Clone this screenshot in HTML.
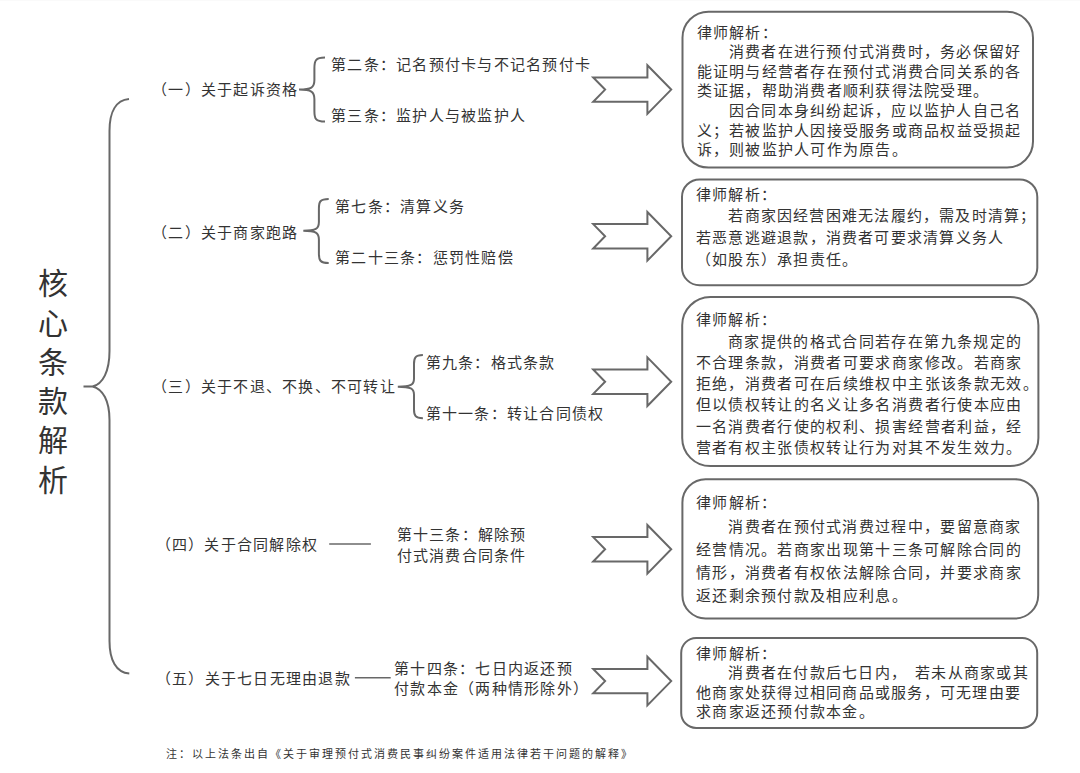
<!DOCTYPE html>
<html lang="zh-CN"><head><meta charset="utf-8"><title>核心条款解析</title>
<style>
html,body{margin:0;padding:0;background:#fff;}
body{width:1080px;height:773px;position:relative;overflow:hidden;}
.t{position:absolute;white-space:nowrap;font-family:'Liberation Serif', serif;color:#333;}
svg{position:absolute;left:0;top:0;}
.topline{position:absolute;left:0;top:0;width:1080px;height:1px;background:#fafafa;}
</style></head><body>
<div class="topline"></div>
<svg width="1080" height="773" viewBox="0 0 1080 773">
<path d="M129,99 C116,100 109.5,112 109.5,131 L109.5,351 C109.5,371 103,384 92.5,386.5 L83.5,386.5 L92.5,386.5 C103,389 109.5,401 109.5,420 L109.5,641 C109.5,660 116,672.5 129.3,673.6" fill="none" stroke="#686868" stroke-width="2" stroke-linejoin="miter"/>
<path d="M325,57.6 C315.4,57.6 314.4,60.6 314.4,68.20000000000002 L314.4,80.05999999999997 C314.4,87.6 311.4,89.6 299,89.6 C311.4,89.6 314.4,91.6 314.4,99.14000000000001 L314.4,110.89999999999998 C314.4,118.5 315.4,121.5 325,121.5" fill="none" stroke="#686868" stroke-width="2" stroke-linejoin="miter"/>
<path d="M328.7,198.9 C319.9,198.9 318.9,201.9 318.9,208.70000000000002 L318.9,221.87999999999997 C318.9,228.7 315.9,230.7 303.3,230.7 C315.9,230.7 318.9,232.7 318.9,239.52 L318.9,253.3 C318.9,260.1 319.9,263.1 328.7,263.1" fill="none" stroke="#686868" stroke-width="2" stroke-linejoin="miter"/>
<path d="M422.9,355.1 C415,355.1 414,358.1 414,364.0 L414,378.69 C414,384.7 411,386.7 397.8,386.7 C411,386.7 414,388.7 414,394.71 L414,409.3 C414,415.2 415,418.2 422.9,418.2" fill="none" stroke="#686868" stroke-width="2" stroke-linejoin="miter"/>
<path d="M329.2,544 L370.9,544" fill="none" stroke="#686868" stroke-width="1.6" stroke-linejoin="miter"/>
<path d="M354.9,677.8 L390.7,677.8" fill="none" stroke="#686868" stroke-width="1.6" stroke-linejoin="miter"/>
<path d="M593.2,77.39999999999999 L647.4,77.39999999999999 L647.4,65.3 L671.2,89.6 L647.4,113.89999999999999 L647.4,101.8 L593.2,101.8 L605.1,89.6 Z" fill="none" stroke="#686868" stroke-width="2" stroke-linejoin="miter"/>
<path d="M593.2,224.10000000000002 L647.4,224.10000000000002 L647.4,212.0 L671.2,236.3 L647.4,260.6 L647.4,248.5 L593.2,248.5 L605.1,236.3 Z" fill="none" stroke="#686868" stroke-width="2" stroke-linejoin="miter"/>
<path d="M593.2,369.5 L647.4,369.5 L647.4,357.4 L671.2,381.7 L647.4,406.0 L647.4,393.9 L593.2,393.9 L605.1,381.7 Z" fill="none" stroke="#686868" stroke-width="2" stroke-linejoin="miter"/>
<path d="M593.2,537.0999999999999 L647.4,537.0999999999999 L647.4,525.0 L671.2,549.3 L647.4,573.5999999999999 L647.4,561.5 L593.2,561.5 L605.1,549.3 Z" fill="none" stroke="#686868" stroke-width="2" stroke-linejoin="miter"/>
<path d="M593.2,668.9 L647.4,668.9 L647.4,656.8000000000001 L671.2,681.1 L647.4,705.4 L647.4,693.3000000000001 L593.2,693.3000000000001 L605.1,681.1 Z" fill="none" stroke="#686868" stroke-width="2" stroke-linejoin="miter"/>
<rect x="682.5" y="11.7" width="350.5" height="155.9" rx="25.99" ry="25.99" fill="none" stroke="#686868" stroke-width="2"/>
<rect x="682.0" y="179.4" width="355.29999999999995" height="105.9" rx="17.65" ry="17.65" fill="none" stroke="#686868" stroke-width="2"/>
<rect x="682.2" y="297.0" width="356.20000000000005" height="169.10000000000002" rx="28.19" ry="28.19" fill="none" stroke="#686868" stroke-width="2"/>
<rect x="682.4" y="479.2" width="355.80000000000007" height="139.2" rx="23.20" ry="23.20" fill="none" stroke="#686868" stroke-width="2"/>
<rect x="681.2" y="638.0" width="356.0" height="89.89999999999998" rx="14.99" ry="14.99" fill="none" stroke="#686868" stroke-width="2"/>
</svg>
<div class="t" style="left:38px;top:264.30px;font-size:30px;line-height:39px;letter-spacing:0.00px;">核</div>
<div class="t" style="left:38px;top:303.54px;font-size:30px;line-height:39px;letter-spacing:0.00px;">心</div>
<div class="t" style="left:38px;top:342.78px;font-size:30px;line-height:39px;letter-spacing:0.00px;">条</div>
<div class="t" style="left:38px;top:382.02px;font-size:30px;line-height:39px;letter-spacing:0.00px;">款</div>
<div class="t" style="left:38px;top:421.26px;font-size:30px;line-height:39px;letter-spacing:0.00px;">解</div>
<div class="t" style="left:38px;top:460.50px;font-size:30px;line-height:39px;letter-spacing:0.00px;">析</div>
<div class="t" style="left:152px;top:80.30px;font-size:15px;line-height:20px;letter-spacing:1.25px;">（一）关于起诉资格</div>
<div class="t" style="left:152px;top:222.60px;font-size:15px;line-height:20px;letter-spacing:1.25px;">（二）关于商家跑路</div>
<div class="t" style="left:152px;top:376.80px;font-size:15px;line-height:20px;letter-spacing:1.25px;">（三）关于不退、不换、不可转让</div>
<div class="t" style="left:155.7px;top:535.00px;font-size:15px;line-height:20px;letter-spacing:1.25px;">（四）关于合同解除权</div>
<div class="t" style="left:155.8px;top:668.50px;font-size:15px;line-height:20px;letter-spacing:1.25px;">（五）关于七日无理由退款</div>
<div class="t" style="left:331px;top:54.70px;font-size:15px;line-height:20px;letter-spacing:1.25px;">第二条：记名预付卡与不记名预付卡</div>
<div class="t" style="left:331px;top:106.10px;font-size:15px;line-height:20px;letter-spacing:1.25px;">第三条：监护人与被监护人</div>
<div class="t" style="left:335px;top:196.80px;font-size:15px;line-height:20px;letter-spacing:1.25px;">第七条：清算义务</div>
<div class="t" style="left:335px;top:247.70px;font-size:15px;line-height:20px;letter-spacing:1.25px;">第二十三条：惩罚性赔偿</div>
<div class="t" style="left:425.5px;top:353.00px;font-size:15px;line-height:20px;letter-spacing:1.25px;">第九条：格式条款</div>
<div class="t" style="left:425.5px;top:404.30px;font-size:15px;line-height:20px;letter-spacing:1.25px;">第十一条：转让合同债权</div>
<div class="t" style="left:396.5px;top:525.30px;font-size:15px;line-height:20px;letter-spacing:1.25px;">第十三条：解除预</div>
<div class="t" style="left:396.5px;top:545.60px;font-size:15px;line-height:20px;letter-spacing:1.25px;">付式消费合同条件</div>
<div class="t" style="left:394px;top:659.30px;font-size:15px;line-height:20px;letter-spacing:1.25px;">第十四条：七日内返还预</div>
<div class="t" style="left:394px;top:678.70px;font-size:15px;line-height:20px;letter-spacing:1.25px;">付款本金（两种情形除外）</div>
<div class="t" style="left:696.5px;top:23.71px;font-size:15px;line-height:19.58px;letter-spacing:1.25px">律师解析：<br><span style='display:inline-block;width:32.4px'></span>消费者在进行预付式消费时，务必保留好<br>能证明与经营者存在预付式消费合同关系的各<br>类证据，帮助消费者顺利获得法院受理。<br><span style='display:inline-block;width:32.4px'></span>因合同本身纠纷起诉，应以监护人自己名<br>义；若被监护人因接受服务或商品权益受损起<br>诉，则被监护人可作为原告。</div>
<div class="t" style="left:696px;top:184.66px;font-size:15px;line-height:21.67px;letter-spacing:1.2199999999999989px">律师解析：<br><span style='display:inline-block;width:32.4px'></span>若商家因经营困难无法履约，需及时清算；<br>若恶意逃避退款，消费者可要求清算义务人<br>（如股东）承担责任。</div>
<div class="t" style="left:695.5px;top:310.38px;font-size:15px;line-height:21.23px;letter-spacing:1.3599999999999994px">律师解析：<br><span style='display:inline-block;width:32.4px'></span>商家提供的格式合同若存在第九条规定的<br>不合理条款，消费者可要求商家修改。若商家<br>拒绝，消费者可在后续维权中主张该条款无效。<br>但以债权转让的名义让多名消费者行使本应由<br>一名消费者行使的权利、损害经营者利益，经<br>营者有权主张债权转让行为对其不发生效力。</div>
<div class="t" style="left:696px;top:492.36px;font-size:15px;line-height:23.28px;letter-spacing:1.3000000000000007px">律师解析：<br><span style='display:inline-block;width:32.4px'></span>消费者在预付式消费过程中，要留意商家<br>经营情况。若商家出现第十三条可解除合同的<br>情形，消费者有权依法解除合同，并要求商家<br>返还剩余预付款及相应利息。</div>
<div class="t" style="left:696px;top:644.67px;font-size:15px;line-height:19.45px;letter-spacing:1.25px">律师解析：<br><span style='display:inline-block;width:32.4px'></span>消费者在付款后七日内，<span style='display:inline-block;width:8px'></span>若未从商家或其<br>他商家处获得过相同商品或服务，可无理由要<br>求商家返还预付款本金。</div>
<div class="t" style="left:166px;top:746.30px;font-size:11px;line-height:16px;letter-spacing:2.00px;">注：以上法条出自《关于审理预付式消费民事纠纷案件适用法律若干问题的解释》</div>

</body></html>
